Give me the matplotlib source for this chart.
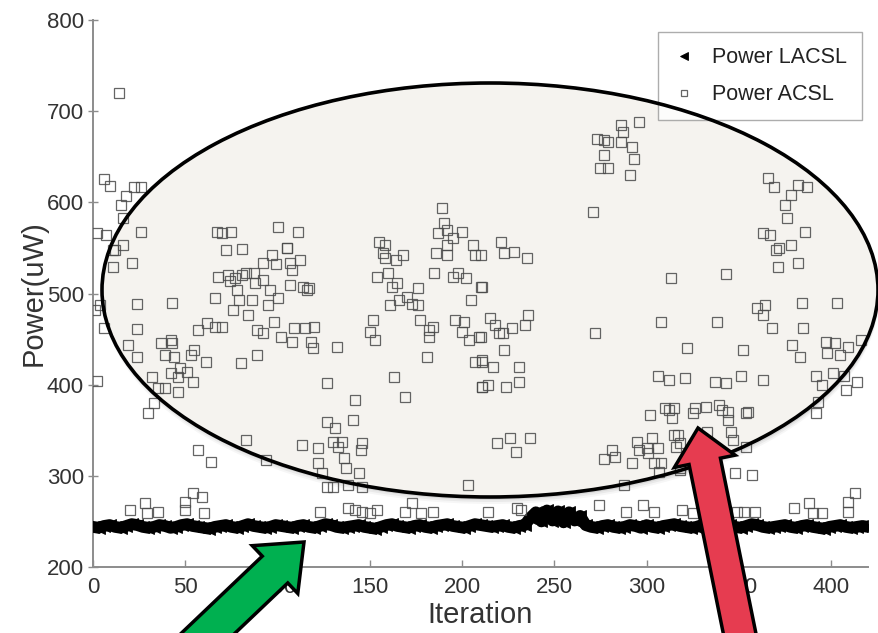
import matplotlib
matplotlib.use("Agg")
import matplotlib.pyplot as plt
from matplotlib.patches import Ellipse, FancyArrow

plt.rcParams['font.family'] = ['Liberation Sans', 'DejaVu Sans']

# ---------------- data ----------------
lacsl_iter = list(range(0, 421, 3))
lacsl_power = [
    244, 243, 245, 246, 244, 243, 245, 247, 246, 244, 243, 244, 246, 245, 243, 244, 246, 247, 245, 244,
    243, 242, 244, 245, 246, 244, 243, 245, 247, 245, 244, 243, 244, 246, 245, 244, 243, 245, 246, 244,
    243, 245, 247, 246, 244, 243, 244, 245, 246, 244, 243, 242, 244, 246, 247, 245, 244, 243, 245, 246,
    244, 243, 245, 246, 247, 245, 244, 243, 245, 247, 246, 245, 244, 245, 246, 244, 243, 245, 246, 254,
    260, 250, 262, 251, 261, 249, 260, 251, 256, 246, 244, 243, 245, 246, 244, 243, 244, 246, 245, 243,
    246, 244, 243, 245, 246, 247, 245, 244, 243, 244, 246, 245, 244, 243, 245, 246, 244, 243, 245, 247,
    246, 244, 243, 244, 245, 246, 244, 243, 245, 246, 244, 243, 242, 244, 245, 246, 244, 243, 244, 245,
    244,
]

acsl_iter = [
    14, 6, 9, 22, 26, 18, 15, 16, 2, 7, 26, 16, 12, 11, 11, 21, 1, 4, 24, 43,
    6, 24, 19, 24, 2, 32, 30, 33, 35, 39, 37, 42, 43, 39, 44, 42, 46, 46, 47, 51,
    54, 53, 55, 57, 62, 66, 70, 61, 66, 67, 70, 75, 72, 81, 68, 73, 74, 77, 78, 81,
    83, 87, 88, 92, 92, 97, 99, 100, 105, 76, 79, 86, 84, 96, 100, 95, 98, 89, 92, 102,
    89, 80, 83, 57, 64, 94, 20, 28, 29, 35, 50, 54, 59, 50, 60,
    111, 105, 107, 112, 108, 107, 114, 116, 117, 109, 115, 120, 108, 118, 119, 132, 127, 142, 141, 127,
    131, 113, 122, 130, 135, 133, 146, 145, 136, 137, 144, 122, 124, 127, 130, 138, 146, 152, 150, 153,
    155, 158, 157, 158, 164, 168, 154, 160, 165, 162, 161, 166, 170, 173, 176, 176, 177, 182, 184, 182,
    181, 163, 169, 189, 190, 187, 192, 195, 192, 200, 206, 207, 186, 192, 185, 195, 198, 202, 210, 205,
    196, 201, 200, 204, 209, 207, 211, 211, 203, 123, 138, 142, 146, 150, 154, 169, 173, 178, 184,
    210, 211, 221, 223, 228, 235, 215, 218, 220, 222, 227, 234, 236, 210, 223, 211, 217, 231, 211, 214,
    224, 231, 219, 226, 229, 237, 271, 272, 273, 277, 279, 286, 287, 286, 292, 293, 296, 277, 275, 279,
    291, 313, 308, 306, 312, 302, 310, 312, 314, 295, 296, 300, 303, 306, 315, 277, 281, 283, 292, 304,
    308, 288, 214, 230, 232, 274, 289, 298, 304, 307, 318, 301, 316,
    366, 369, 382, 387, 378, 375, 376, 363, 367, 370, 372, 378, 386, 371, 382, 343, 360, 364, 363, 384,
    403, 338, 368, 385, 322, 352, 379, 383, 397, 402, 405, 398, 409, 416, 392, 401, 395, 408, 414, 407,
    392, 393, 321, 337, 343, 351, 363, 315, 325, 326, 332, 339, 341, 344, 344, 354, 355, 317, 318, 333,
    346, 347, 354, 318, 348, 357, 319, 349, 353, 359, 380, 388, 390, 395, 409, 413, 409, 325,
]
acsl_power = [
    720, 626, 618, 617, 617, 607, 597, 583, 566, 564, 568, 553, 548, 548, 529, 533, 482, 487, 489, 490,
    462, 461, 443, 430, 404, 408, 369, 380, 396, 396, 446, 449, 446, 432, 430, 413, 408, 392, 418, 414,
    403, 432, 438, 460, 468, 463, 463, 425, 495, 567, 566, 567, 548, 549, 518, 520, 514, 517, 504, 520,
    523, 523, 511, 515, 533, 542, 532, 573, 550, 482, 493, 493, 476, 504, 495, 487, 469, 460, 457, 452,
    432, 424, 339, 328, 315, 317, 262, 270, 259, 260, 271, 281, 277, 262, 259,
    567, 550, 533, 537, 526, 509, 507, 504, 506, 462, 462, 463, 447, 447, 440, 441, 402, 383, 361, 359,
    352, 334, 330, 337, 337, 332, 336, 328, 320, 309, 303, 314, 303, 288, 288, 290, 288, 471, 458, 449,
    556, 553, 544, 539, 537, 542, 518, 522, 511, 507, 487, 493, 496, 489, 487, 506, 471, 460, 463, 452,
    430, 408, 386, 594, 577, 566, 570, 561, 553, 567, 553, 542, 544, 542, 522, 518, 522, 517, 507, 493,
    471, 469, 458, 449, 452, 425, 427, 397, 290, 260, 265, 262, 260, 259, 262, 260, 270, 259, 260,
    542, 507, 556, 544, 545, 539, 473, 465, 457, 457, 462, 465, 476, 452, 438, 425, 419, 419, 397, 400,
    397, 403, 336, 341, 326, 341, 589, 457, 670, 668, 666, 685, 677, 666, 661, 648, 688, 652, 638, 638,
    630, 517, 469, 410, 405, 367, 374, 372, 363, 337, 328, 330, 341, 330, 345, 319, 328, 321, 314, 314,
    314, 290, 260, 265, 262, 268, 260, 268, 260, 304, 306, 325, 332,
    627, 617, 619, 617, 608, 597, 583, 566, 564, 548, 550, 553, 567, 529, 533, 521, 484, 487, 476, 490,
    490, 469, 462, 462, 440, 438, 443, 430, 447, 446, 432, 435, 441, 449, 410, 413, 400, 394, 403, 410,
    369, 381, 407, 403, 402, 410, 405, 374, 369, 374, 375, 378, 372, 370, 361, 369, 370, 345, 336, 348,
    348, 339, 332, 309, 303, 301, 262, 260, 260, 260, 265, 270, 259, 259, 271, 281, 260, 259,
]

x_ticks = [0, 50, 100, 150, 200, 250, 300, 350, 400]
y_ticks = [200, 300, 400, 500, 600, 700, 800]

# ---------------- figure ----------------
W, H = 879, 633
fig = plt.figure(figsize=(W / 100, H / 100), dpi=100)
fig.patch.set_facecolor('white')
ax = fig.add_axes([93 / W, 66 / H, 775 / W, 547 / H])
ax.set_facecolor('white')

inch = fig.dpi_scale_trans

def px(x, y):
    return x / 100.0, (H - y) / 100.0

# ellipse shadow + fill (behind points)
cx, cy = px(490, 290)
for k, a in [(7, 0.035), (5, 0.05), (3, 0.07)]:
    ax.add_patch(Ellipse((cx + 0.01, cy - k / 100.0), 7.76, 4.14, transform=inch,
                         facecolor='black', edgecolor='none', alpha=a,
                         clip_on=False, zorder=0.8))
ax.add_patch(Ellipse((cx, cy), 7.76, 4.14, transform=inch,
                     facecolor='#F5F3EF', edgecolor='none', clip_on=False, zorder=1))

# dense LACSL band: thick joined trace + triangle markers
ax.plot(lacsl_iter, lacsl_power, linestyle='-', linewidth=8.5, color='black',
        solid_joinstyle='round', zorder=3)
ax.plot(lacsl_iter, lacsl_power, linestyle='none', marker='<', markersize=9,
        color='black', markeredgewidth=0.6, zorder=3, label='Power LACSL')
ax.plot(acsl_iter, acsl_power, linestyle='none', marker='s', markersize=6.8,
        markerfacecolor='none', markeredgecolor='#4a4a4a', markeredgewidth=0.9,
        alpha=0.85, zorder=3.5, label='Power ACSL')

ax.set_xlim(0, 420)
ax.set_ylim(200, 800)
ax.set_xticks(x_ticks)
ax.set_yticks(y_ticks)

for s in ['top', 'right']:
    ax.spines[s].set_visible(False)
for s in ['left', 'bottom']:
    ax.spines[s].set_color('#8c8c8c')
    ax.spines[s].set_linewidth(1.4)
ax.tick_params(axis='x', direction='in', length=5, width=1, color='#8c8c8c',
               labelsize=16, labelcolor='#333333', pad=7)
ax.tick_params(axis='y', direction='inout', length=7, width=1, color='#8c8c8c',
               labelsize=16, labelcolor='#333333', pad=3)

ax.set_xlabel('Iteration', fontsize=21, color='#333333')
ax.xaxis.set_label_coords(0.5, -0.062)
ax.set_ylabel('Power(uW)', fontsize=21, color='#333333')
ax.yaxis.set_label_coords(-0.058, 0.5)

handles, labels = ax.get_legend_handles_labels()
leg = ax.legend(handles, labels, loc='upper right',
                bbox_to_anchor=((862 - 93) / 775, (567 - 32) / 547),
                fontsize=15.5, frameon=True, fancybox=False, markerscale=0.6,
                handlelength=1.0, handletextpad=0.8, borderpad=0.7, labelspacing=0.75,
                borderaxespad=0)
leg.get_frame().set_edgecolor('#999999')
leg.get_frame().set_linewidth(1.0)
leg.set_zorder(5)
for t in leg.get_texts():
    t.set_color('#222222')

# ellipse outline on top
ax.add_patch(Ellipse((cx, cy), 7.76, 4.14, transform=inch,
                     facecolor='none', edgecolor='black', linewidth=2.6,
                     clip_on=False, zorder=6))

# arrows (figure level, drawn over everything)
gx0, gy0 = px(180, 660)
gx1, gy1 = px(304, 542)
fig.add_artist(FancyArrow(gx0, gy0, gx1 - gx0, gy1 - gy0, width=0.37, head_width=0.66,
                          head_length=0.40, length_includes_head=True, transform=inch,
                          facecolor='#00B050', edgecolor='black', linewidth=2.5,
                          joinstyle='miter', zorder=20))
rx0, ry0 = px(745, 660)
rx1, ry1 = px(698, 428)
fig.add_artist(FancyArrow(rx0, ry0, rx1 - rx0, ry1 - ry0, width=0.32, head_width=0.62,
                          head_length=0.34, length_includes_head=True, transform=inch,
                          facecolor='#E63C50', edgecolor='black', linewidth=2.5,
                          joinstyle='miter', zorder=20))

fig.savefig('out.png', dpi=100)
